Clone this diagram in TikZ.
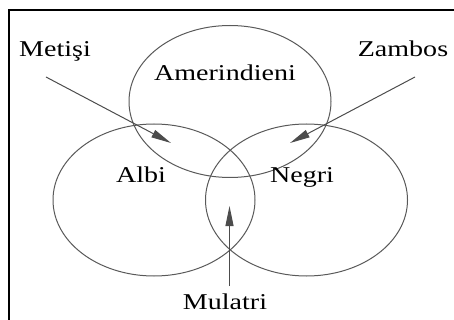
\documentclass[tikz,border=0pt]{standalone}
\usepackage{fontspec}
\newfontfamily\etiq[FakeStretch=1.24]{Liberation Serif}
\usetikzlibrary{shapes.geometric,arrows.meta}

\begin{document}
\begin{tikzpicture}[
        x=0.5pt, y=-0.5pt,
        % Styles des nœuds
        ensemble/.style={ellipse, draw=black!65, line width=0.5pt, minimum width=101pt, minimum height=76pt, inner sep=0pt},
        nom/.style={anchor=base, inner sep=1pt, font=\etiq\fontsize{11.3}{13}\selectfont},
        % Style des flèches
        fleche/.style={-{Triangle[length=10pt, width=4pt]}, draw=black!70, line width=0.5pt}
    ]
    \useasboundingbox (0,0) rectangle (454,320);

    % Cadre
    \draw[line width=1pt] (9,10) rectangle (480,350);

    % Ensembles
    \node[ensemble] (amer) at (230,101.5) {};
    \node[ensemble] (albi) at (154,200) {};
    \node[ensemble] (negri) at (306.5,200) {};

    % Noms des ensembles
    \node[nom] (amer-nom) at (225,81) {Amerindieni};
    \node[nom] (albi-nom) at (141,183) {Albi};
    \node[nom] (negri-nom) at (302,183) {Negri};

    % Métissages
    \node[nom] (metisi) at (55,57) {Metişi};
    \node[nom] (zambos) at (403,57) {Zambos};
    \node[nom] (mulatri) at (225,309) {Mulatri};

    \coordinate (metisi-tip) at (171,143);
    \coordinate (zambos-tip) at (290,143);
    \coordinate (mulatri-tip) at (229.5,206);

    \draw[fleche] ([xshift=-4.5pt, yshift=-10pt]metisi.base) -- (metisi-tip);
    \draw[fleche] ([xshift=6pt, yshift=-10pt]zambos.base) -- (zambos-tip);
    \draw[fleche] ([xshift=2.25pt, yshift=11.5pt]mulatri.base) -- (mulatri-tip);

\end{tikzpicture}
\end{document}
